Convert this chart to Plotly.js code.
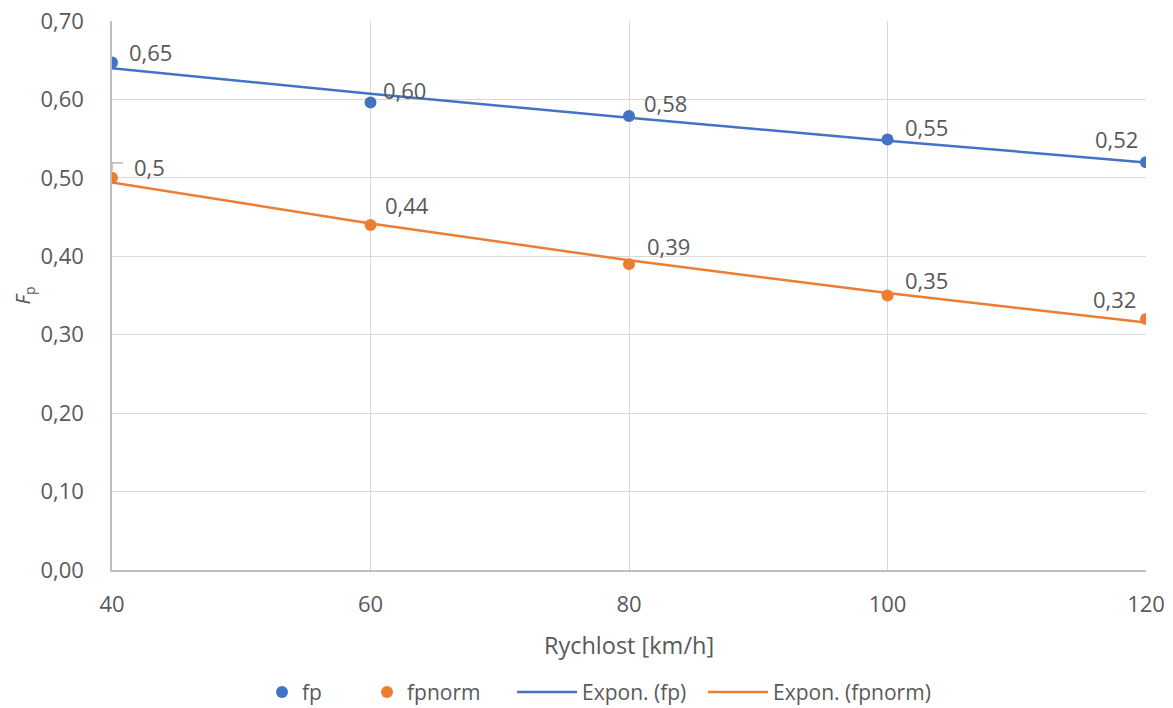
<!DOCTYPE html>
<html>
<head>
<meta charset="utf-8">
<script src="https://cdn.plot.ly/plotly-3.0.1.min.js"></script>
<style>
  html, body { margin: 0; padding: 0; background: #ffffff; }
  #chart { width: 1173px; height: 708px; }
</style>
</head>
<body>
<div id="chart"></div>
<script>
// Speed categories [km/h]
const speeds = [40, 60, 80, 100, 120];
// Measured coefficient fp and its normalised variant
const fp = [0.647, 0.596, 0.579, 0.549, 0.520];
const fpnorm = [0.5, 0.44, 0.39, 0.35, 0.32];

const seriesNames = ['fp', 'fpnorm'];
const trendNames = ['Expon. (fp)', 'Expon. (fpnorm)'];

const BLUE = '#4472C4';
const ORANGE = '#ED7D31';
const FONT = 'Open Sans, Noto Sans, sans-serif';
const TXT = '#595959';
const W = 1173;

// Exponential trend y = a*e^(b*x), least squares on ln(y)
function expFit(xs, ys) {
  const n = xs.length;
  const ly = ys.map(Math.log);
  const mx = xs.reduce((s, v) => s + v, 0) / n;
  const my = ly.reduce((s, v) => s + v, 0) / n;
  let sxy = 0, sxx = 0;
  for (let i = 0; i < n; i++) {
    sxy += (xs[i] - mx) * (ly[i] - my);
    sxx += (xs[i] - mx) * (xs[i] - mx);
  }
  const b = sxy / sxx;
  const a = Math.exp(my - b * mx);
  return xs.map(x => a * Math.exp(b * x));
}

const comma = s => s.replace('.', ',');
const fpLabels = fp.map(v => comma(v.toFixed(2)));
const fpnormLabels = fpnorm.map(v => comma(String(v)));

const traces = [
  {
    x: speeds, y: fp, name: seriesNames[0], type: 'scatter', mode: 'markers', legend: 'legend',
    marker: { color: BLUE, size: 12 }, hoverinfo: 'x+y'
  },
  {
    x: speeds, y: fpnorm, name: seriesNames[1], type: 'scatter', mode: 'markers', legend: 'legend2',
    marker: { color: ORANGE, size: 12 }, hoverinfo: 'x+y'
  },
  {
    x: speeds, y: expFit(speeds, fp), name: trendNames[0], type: 'scatter', mode: 'lines', legend: 'legend3',
    line: { color: BLUE, width: 2.5 }, hoverinfo: 'skip'
  },
  {
    x: speeds, y: expFit(speeds, fpnorm), name: trendNames[1], type: 'scatter', mode: 'lines', legend: 'legend4',
    line: { color: ORANGE, width: 2.5 }, hoverinfo: 'skip'
  }
];

// Label offsets (pixels) relative to each point
const fpShift = [[15, 11, 'left'], [10, 13, 'left'], [13, 13, 'left'], [15, 12, 'left'], [-6, 23, 'right']];
const fpnormShift = [[20, 11, 'left'], [12, 20, 'left'], [16, 18, 'left'], [15, 16, 'left'], [-8, 20, 'right']];

const annotations = [];
function addLabels(ys, labels, shifts) {
  ys.forEach((v, i) => {
    annotations.push({
      x: speeds[i], y: v, xref: 'x', yref: 'y', text: labels[i], showarrow: false,
      xanchor: shifts[i][2], yanchor: 'middle',
      xshift: shifts[i][0], yshift: shifts[i][1],
      font: { family: FONT, size: 22, color: TXT }
    });
  });
}
addLabels(fp, fpLabels, fpShift);
addLabels(fpnorm, fpnormLabels, fpnormShift);

// Leader line for the first fpnorm label
const shapes = [
  { type: 'line', xref: 'x', yref: 'y', xsizemode: 'pixel', ysizemode: 'pixel',
    xanchor: speeds[0], yanchor: fpnorm[0], x0: 0, x1: 0, y0: 7, y1: 15,
    line: { color: '#a6a6a6', width: 1.2 } },
  { type: 'line', xref: 'x', yref: 'y', xsizemode: 'pixel', ysizemode: 'pixel',
    xanchor: speeds[0], yanchor: fpnorm[0], x0: 0, x1: 11, y0: 15, y1: 15,
    line: { color: '#a6a6a6', width: 1.2 } }
];

// One legend box per entry so each entry sits at its own spot along the bottom
function legendAt(px, itemwidth) {
  return {
    orientation: 'h', xref: 'container', yref: 'container',
    x: px / W, xanchor: 'left', y: 0.022, yanchor: 'middle', itemwidth: itemwidth,
    font: { family: FONT, size: 21, color: TXT }, bgcolor: 'rgba(0,0,0,0)'
  };
}

const layout = {
  width: W, height: 708,
  paper_bgcolor: '#ffffff', plot_bgcolor: '#ffffff',
  margin: { l: 112, r: 27, t: 21, b: 138, autoexpand: false },
  separators: ',.',
  font: { family: FONT, color: TXT, size: 22 },
  showlegend: true,
  legend: legendAt(262, 30),
  legend2: legendAt(367, 30),
  legend3: legendAt(512, 60),
  legend4: legendAt(703, 60),
  xaxis: {
    range: [40, 120], tickvals: speeds, ticktext: speeds.map(String),
    showgrid: true, gridcolor: '#d9d9d9', gridwidth: 1,
    showline: true, linecolor: '#bfbfbf', linewidth: 1.5,
    zeroline: false, ticks: '', ticklabelstandoff: 14, automargin: false,
    tickfont: { family: FONT, size: 22, color: TXT },
    title: { text: 'Rychlost [km/h]', font: { family: FONT, size: 23.5, color: TXT }, standoff: 20 }
  },
  yaxis: {
    range: [0, 0.7], dtick: 0.1, tick0: 0, tickformat: '.2f',
    showgrid: true, gridcolor: '#d9d9d9', gridwidth: 1,
    showline: true, linecolor: '#bfbfbf', linewidth: 1.5,
    zeroline: false, ticks: '', ticklabelstandoff: 22, automargin: false,
    tickfont: { family: FONT, size: 22, color: TXT },
    title: { text: '<i>F</i><sub>p</sub>', font: { family: FONT, size: 20, color: TXT }, standoff: 4 }
  },
  annotations: annotations,
  shapes: shapes
};

Plotly.newPlot('chart', traces, layout, { displayModeBar: false, responsive: false });
</script>
</body>
</html>
